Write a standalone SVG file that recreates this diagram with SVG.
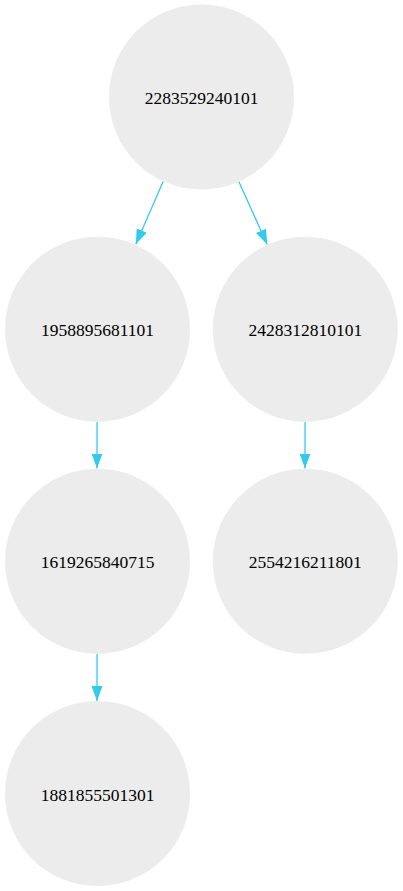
<svg xmlns="http://www.w3.org/2000/svg" width="403" height="891" viewBox="0 0 403 891">
<style>
.node circle{fill:#ececec;stroke:none}
.node text{font-family:"Liberation Serif","Times New Roman",serif;font-size:17.5px;fill:#000;text-anchor:middle}
.edge{stroke:#33cbed;stroke-width:1.3;fill:none}
</style>
<defs>
<marker id="arr" viewBox="0 0 15 11" refX="15" refY="5.5" markerWidth="15" markerHeight="11" markerUnits="userSpaceOnUse" orient="auto">
<path d="M0,0 L15,5.5 L0,11 z" fill="#33cbed"/>
</marker>
</defs>
<rect width="403" height="891" fill="#fff"/>
<g id="connectors">
<line class="edge" x1="163.2" y1="181.4" x2="135.8" y2="244.3" marker-end="url(#arr)"/>
<line class="edge" x1="238.8" y1="181.4" x2="267.2" y2="244.5" marker-end="url(#arr)"/>
<line class="edge" x1="97" y1="422" x2="97" y2="468.5" marker-end="url(#arr)"/>
<line class="edge" x1="305" y1="422" x2="305" y2="468.5" marker-end="url(#arr)"/>
<line class="edge" x1="97" y1="654" x2="97" y2="701" marker-end="url(#arr)"/>
</g>
<g id="n2283529240101" class="node"><circle cx="201.5" cy="97" r="92.5"/><text x="201.5" y="104">2283529240101</text></g>
<g id="n1958895681101" class="node"><circle cx="97.5" cy="329.2" r="92.5"/><text x="97.5" y="336.2">1958895681101</text></g>
<g id="n2428312810101" class="node"><circle cx="305.3" cy="329.2" r="92.5"/><text x="305.3" y="336.2">2428312810101</text></g>
<g id="n1619265840715" class="node"><circle cx="97.5" cy="561.3" r="92.5"/><text x="97.5" y="568.3">1619265840715</text></g>
<g id="n2554216211801" class="node"><circle cx="305.3" cy="561.3" r="92.5"/><text x="305.3" y="568.3">2554216211801</text></g>
<g id="n1881855501301" class="node"><circle cx="97.5" cy="793.5" r="92.5"/><text x="97.5" y="800.5">1881855501301</text></g>
</svg>
